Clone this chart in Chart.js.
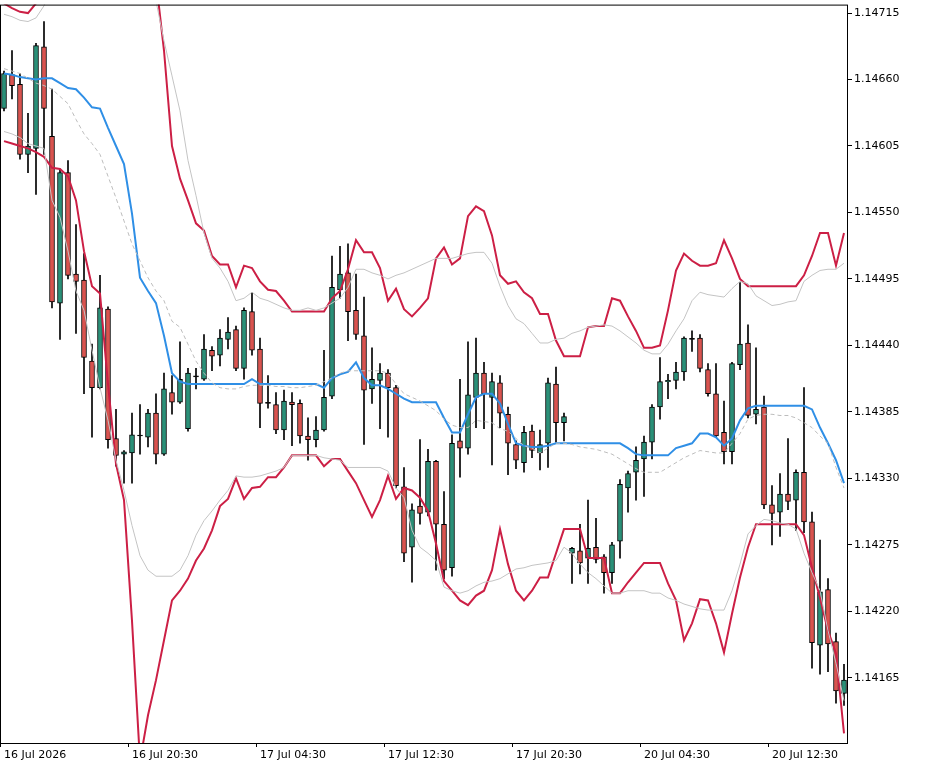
<!DOCTYPE html>
<html>
<head>
<meta charset="utf-8">
<script src="https://cdn.jsdelivr.net/npm/chart.js@4"></script>
<style>
  html, body { margin: 0; padding: 0; background: #fff; overflow: hidden; }
  #wrap { position: relative; top: -4px; width: 925px; height: 773px; }
</style>
</head>
<body>
<div id="wrap"><canvas id="chart"></canvas></div>
<script>
// 30 minute candles, EURUSD style
const openPrices = [
  1.14636,1.14664,1.14656,1.14598,1.14603,1.14687,1.14613,1.14475,1.14583,1.14499,
  1.14494,1.14427,1.14405,1.14470,1.14363,1.14350,1.14351,1.14365,1.14364,1.14384,
  1.14350,1.14401,1.14393,1.14371,1.14414,1.14412,1.14436,1.14432,1.14445,1.14453,
  1.14421,1.14468,1.14437,1.14392,1.14391,1.14370,1.14393,1.14392,1.14365,1.14362,
  1.14370,1.14398,1.14486,1.14500,1.14469,1.14448,1.14404,1.14411,1.14417,1.14405,
  1.14323,1.14273,1.14307,1.14302,1.14344,1.14292,1.14256,1.14361,1.14355,1.14397,
  1.14417,1.14397,1.14409,1.14383,1.14358,1.14343,1.14369,1.14351,1.14359,1.14408,
  1.14376,1.14268,1.14270,1.14264,1.14273,1.14265,1.14252,1.14278,1.14322,1.14335,
  1.14346,1.14360,1.14389,1.14410,1.14411,1.14418,1.14445,1.14446,1.14420,1.14400,
  1.14368,1.14352,1.14424,1.14442,1.14383,1.14389,1.14308,1.14302,1.14317,1.14312,
  1.14335,1.14294,1.14192,1.14238,1.14195,1.14152
];
const highPrices = [
  1.14667,1.14684,1.14665,1.14632,1.14690,1.14708,1.14652,1.14586,1.14593,1.14540,
  1.14516,1.14441,1.14498,1.14472,1.14387,1.14353,1.14384,1.14391,1.14387,1.14400,
  1.14417,1.14415,1.14443,1.14421,1.14421,1.14449,1.14439,1.14453,1.14463,1.14456,
  1.14471,1.14484,1.14446,1.14415,1.14401,1.14403,1.14401,1.14395,1.14380,1.14381,
  1.14436,1.14514,1.14522,1.14524,1.14499,1.14480,1.14438,1.14425,1.14420,1.14407,
  1.14339,1.14309,1.14362,1.14354,1.14345,1.14319,1.14366,1.14412,1.14443,1.14446,
  1.14426,1.14417,1.14415,1.14389,1.14361,1.14373,1.14374,1.14370,1.14413,1.14422,
  1.14384,1.14273,1.14292,1.14312,1.14297,1.14267,1.14277,1.14329,1.14336,1.14356,
  1.14365,1.14391,1.14430,1.14416,1.14426,1.14447,1.14452,1.14449,1.14425,1.14425,
  1.14394,1.14426,1.14492,1.14457,1.14438,1.14398,1.14324,1.14334,1.14363,1.14337,
  1.14405,1.14302,1.14279,1.14247,1.14202,1.14176
];
const lowPrices = [
  1.14634,1.14644,1.14594,1.14583,1.14565,1.14598,1.14471,1.14445,1.14495,1.14450,
  1.14400,1.14364,1.14404,1.14355,1.14340,1.14326,1.14326,1.14350,1.14356,1.14342,
  1.14349,1.14383,1.14392,1.14369,1.14404,1.14411,1.14419,1.14423,1.14437,1.14419,
  1.14412,1.14432,1.14372,1.14388,1.14367,1.14362,1.14357,1.14359,1.14345,1.14356,
  1.14369,1.14396,1.14479,1.14444,1.14445,1.14358,1.14392,1.14371,1.14364,1.14322,
  1.14261,1.14244,1.14292,1.14299,1.14254,1.14247,1.14249,1.14331,1.14350,1.14372,
  1.14371,1.14341,1.14372,1.14333,1.14338,1.14335,1.14347,1.14337,1.14339,1.14360,
  1.14361,1.14243,1.14251,1.14243,1.14260,1.14235,1.14243,1.14264,1.14302,1.14312,
  1.14315,1.14346,1.14379,1.14396,1.14404,1.14411,1.14435,1.14418,1.14398,1.14364,
  1.14342,1.14342,1.14420,1.14380,1.14375,1.14305,1.14275,1.14282,1.14304,1.14287,
  1.14285,1.14173,1.14168,1.14170,1.14144,1.14142
];
const closePrices = [
  1.14665,1.14655,1.14598,1.14605,1.14688,1.14636,1.14476,1.14583,1.14498,1.14493,
  1.14430,1.14405,1.14471,1.14362,1.14349,1.14352,1.14366,1.14365,1.14384,1.14350,
  1.14404,1.14393,1.14412,1.14417,1.14414,1.14437,1.14431,1.14446,1.14451,1.14421,
  1.14469,1.14436,1.14392,1.14392,1.14370,1.14394,1.14391,1.14365,1.14362,1.14370,
  1.14397,1.14488,1.14499,1.14468,1.14449,1.14403,1.14412,1.14417,1.14405,1.14324,
  1.14268,1.14304,1.14301,1.14344,1.14292,1.14254,1.14359,1.14355,1.14399,1.14417,
  1.14400,1.14410,1.14384,1.14359,1.14345,1.14368,1.14353,1.14358,1.14409,1.14376,
  1.14381,1.14272,1.14260,1.14272,1.14263,1.14252,1.14275,1.14325,1.14334,1.14345,
  1.14360,1.14389,1.14410,1.14411,1.14418,1.14446,1.14445,1.14421,1.14400,1.14365,
  1.14352,1.14425,1.14441,1.14382,1.14387,1.14308,1.14301,1.14317,1.14311,1.14335,
  1.14294,1.14194,1.14236,1.14193,1.14154,1.14163
];

// indicator lines
const midLine = [
  1.14665,1.14664,1.14662,1.14661,1.14660,1.14661,1.14661,1.14657,1.14653,1.14652,
  1.14645,1.14637,1.14636,1.14620,1.14605,1.14590,1.14549,1.14496,1.14485,1.14475,
  1.14448,1.14417,1.14410,1.14408,1.14408,1.14408,1.14408,1.14408,1.14408,1.14408,
  1.14408,1.14412,1.14408,1.14408,1.14408,1.14408,1.14408,1.14408,1.14408,1.14408,
  1.14405,1.14413,1.14416,1.14418,1.14426,1.14413,1.14407,1.14407,1.14404,1.14400,
  1.14396,1.14393,1.14393,1.14393,1.14393,1.14380,1.14368,1.14368,1.14383,1.14397,
  1.14400,1.14400,1.14392,1.14375,1.14359,1.14357,1.14356,1.14356,1.14357,1.14359,
  1.14359,1.14359,1.14359,1.14359,1.14359,1.14359,1.14359,1.14359,1.14355,1.14350,
  1.14349,1.14349,1.14349,1.14349,1.14355,1.14357,1.14359,1.14367,1.14367,1.14364,
  1.14357,1.14363,1.14378,1.14388,1.14390,1.14390,1.14390,1.14390,1.14390,1.14390,
  1.14390,1.14387,1.14372,1.14359,1.14345,1.14326
];
const upperBand = [
  1.14723,1.14719,1.14716,1.14715,1.14723,1.14742,1.14758,1.14775,1.14783,1.14791,
  1.14799,1.14808,1.14808,1.14808,1.14799,1.14791,1.14783,1.14775,1.14758,1.14742,
  1.14684,1.14605,1.14578,1.14560,1.14541,1.14535,1.14514,1.14507,1.14507,1.14488,
  1.14506,1.14504,1.14493,1.14486,1.14485,1.14477,1.14468,1.14468,1.14468,1.14468,
  1.14468,1.14479,1.14485,1.14503,1.14527,1.14517,1.14517,1.14504,1.14477,1.14487,
  1.14470,1.14464,1.14471,1.14479,1.14512,1.14521,1.14507,1.14512,1.14547,1.14555,
  1.14551,1.14531,1.14498,1.14491,1.14493,1.14484,1.14479,1.14466,1.14466,1.14444,
  1.14431,1.14431,1.14431,1.14455,1.14456,1.14456,1.14479,1.14477,1.14464,1.14452,
  1.14438,1.14438,1.14440,1.14469,1.14502,1.14516,1.14510,1.14506,1.14506,1.14508,
  1.14527,1.14512,1.14495,1.14489,1.14489,1.14489,1.14489,1.14489,1.14489,1.14489,
  1.14498,1.14514,1.14533,1.14533,1.14506,1.14533
];
const lowerBand = [
  1.14609,1.14607,1.14605,1.14603,1.14600,1.14596,1.14587,1.14586,1.14580,1.14560,
  1.14518,1.14489,1.14483,1.14408,1.14342,1.14312,1.14212,1.14096,1.14134,1.14163,
  1.14196,1.14229,1.14237,1.14247,1.14262,1.14272,1.14287,1.14307,1.14313,1.14330,
  1.14313,1.14322,1.14323,1.14331,1.14331,1.14339,1.14349,1.14349,1.14349,1.14349,
  1.14340,1.14346,1.14346,1.14336,1.14326,1.14312,1.14298,1.14312,1.14332,1.14313,
  1.14322,1.14320,1.14314,1.14303,1.14276,1.14245,1.14237,1.14229,1.14225,1.14233,
  1.14237,1.14254,1.14288,1.14259,1.14237,1.14229,1.14237,1.14248,1.14248,1.14268,
  1.14288,1.14288,1.14288,1.14264,1.14264,1.14264,1.14235,1.14235,1.14244,1.14252,
  1.14260,1.14260,1.14260,1.14243,1.14229,1.14196,1.14210,1.14230,1.14229,1.14210,
  1.14186,1.14218,1.14248,1.14273,1.14292,1.14292,1.14292,1.14292,1.14292,1.14292,
  1.14283,1.14256,1.14231,1.14204,1.14185,1.14119
];
const upperEnvelope = [
  1.14714,1.14712,1.14709,1.14708,1.14711,1.14721,1.14737,1.14750,1.14766,1.14766,
  1.14766,1.14766,1.14766,1.14766,1.14766,1.14766,1.14766,1.14766,1.14750,1.14725,
  1.14692,1.14663,1.14634,1.14593,1.14564,1.14533,1.14512,1.14504,1.14493,1.14477,
  1.14479,1.14484,1.14479,1.14477,1.14474,1.14471,1.14469,1.14469,1.14471,1.14469,
  1.14471,1.14475,1.14479,1.14488,1.14503,1.14503,1.14500,1.14498,1.14495,1.14498,
  1.14500,1.14503,1.14506,1.14509,1.14512,1.14512,1.14512,1.14514,1.14516,1.14517,
  1.14517,1.14508,1.14489,1.14473,1.14462,1.14458,1.14450,1.14442,1.14442,1.14445,
  1.14446,1.14450,1.14452,1.14455,1.14456,1.14457,1.14456,1.14452,1.14447,1.14442,
  1.14436,1.14433,1.14433,1.14441,1.14452,1.14462,1.14477,1.14484,1.14482,1.14481,
  1.14480,1.14487,1.14493,1.14491,1.14481,1.14477,1.14473,1.14474,1.14476,1.14477,
  1.14493,1.14498,1.14502,1.14503,1.14503,1.14508
];
const lowerEnvelope = [
  1.14617,1.14615,1.14612,1.14607,1.14605,1.14603,1.14560,1.14546,1.14518,1.14485,
  1.14469,1.14436,1.14405,1.14378,1.14345,1.14320,1.14291,1.14266,1.14254,1.14249,
  1.14249,1.14249,1.14254,1.14266,1.14283,1.14295,1.14303,1.14312,1.14320,1.14332,
  1.14331,1.14331,1.14332,1.14334,1.14336,1.14339,1.14349,1.14349,1.14349,1.14349,
  1.14347,1.14346,1.14345,1.14339,1.14339,1.14339,1.14339,1.14339,1.14336,1.14322,
  1.14314,1.14287,1.14273,1.14268,1.14262,1.14240,1.14237,1.14235,1.14237,1.14241,
  1.14244,1.14245,1.14247,1.14251,1.14255,1.14256,1.14258,1.14259,1.14260,1.14262,
  1.14273,1.14268,1.14259,1.14252,1.14247,1.14241,1.14235,1.14235,1.14237,1.14237,
  1.14237,1.14235,1.14235,1.14231,1.14229,1.14226,1.14224,1.14222,1.14221,1.14221,
  1.14221,1.14237,1.14259,1.14284,1.14291,1.14296,1.14295,1.14293,1.14292,1.14288,
  1.14268,1.14252,1.14237,1.14204,1.14177,1.14146
];
const centreEnvelope = [
  1.14669,1.14667,1.14665,1.14661,1.14657,1.14655,1.14652,1.14646,1.14640,1.14627,
  1.14615,1.14607,1.14598,1.14580,1.14562,1.14543,1.14524,1.14510,1.14496,1.14485,
  1.14477,1.14460,1.14455,1.14441,1.14427,1.14417,1.14409,1.14405,1.14404,1.14404,
  1.14406,1.14407,1.14407,1.14407,1.14406,1.14406,1.14405,1.14405,1.14406,1.14407,
  1.14410,1.14413,1.14417,1.14419,1.14419,1.14419,1.14419,1.14419,1.14417,1.14408,
  1.14400,1.14397,1.14394,1.14390,1.14386,1.14379,1.14374,1.14372,1.14372,1.14378,
  1.14377,1.14376,1.14371,1.14369,1.14363,1.14357,1.14355,1.14351,1.14355,1.14359,
  1.14359,1.14358,1.14356,1.14355,1.14354,1.14352,1.14350,1.14346,1.14342,1.14338,
  1.14335,1.14335,1.14335,1.14339,1.14343,1.14347,1.14350,1.14353,1.14352,1.14351,
  1.14351,1.14359,1.14367,1.14379,1.14382,1.14383,1.14383,1.14382,1.14382,1.14380,
  1.14376,1.14372,1.14365,1.14359,1.14339,1.14322
];

const yTicks = [1.14165, 1.14220, 1.14275, 1.14330, 1.14385, 1.14440, 1.14495, 1.14550, 1.14605, 1.14660, 1.14715];
const timeLabels = ['16 Jul 2026', '16 Jul 20:30', '17 Jul 04:30', '17 Jul 12:30', '17 Jul 20:30', '20 Jul 04:30', '20 Jul 12:30'];
const labelStep = 16;

const labels = openPrices.map((_, i) => i);
const wicks = lowPrices.map((l, i) => [l, highPrices[i]]);
const bodies = openPrices.map((o, i) => [o, closePrices[i]]);
const bodyColors = openPrices.map((o, i) => {
    if (closePrices[i] > o) return '#2a9078';
    if (closePrices[i] < o) return '#d9534f';
    return '#000000';
});

function lineSet(data, color, width, dash) {
    return {
        type: 'line',
        data: data,
        borderColor: color,
        borderWidth: width,
        borderDash: dash || [],
        pointRadius: 0,
        tension: 0,
        fill: false,
        order: 1
    };
}

const framePlugin = {
    id: 'frame',
    afterDraw(chart) {
        const a = chart.chartArea;
        const ctx = chart.ctx;
        ctx.save();
        ctx.strokeStyle = '#000';
        ctx.lineWidth = 1;
        ctx.strokeRect(a.left + 0.5, a.top + 0.5, a.right - a.left - 1, a.bottom - a.top);
        ctx.restore();
    }
};

new Chart(document.getElementById('chart'), {
    type: 'bar',
    data: {
        labels: labels,
        datasets: [
            lineSet(upperEnvelope, '#c4c4c4', 1),
            lineSet(lowerEnvelope, '#c4c4c4', 1),
            lineSet(centreEnvelope, '#bdbdbd', 1, [4, 3]),
            lineSet(upperBand, '#cc1f45', 2),
            lineSet(lowerBand, '#cc1f45', 2),
            lineSet(midLine, '#2f8fe6', 2),
            {
                data: wicks,
                backgroundColor: '#000',
                barThickness: 1,
                grouped: false,
                order: 10
            },
            {
                data: bodies,
                backgroundColor: bodyColors,
                borderColor: '#000',
                borderWidth: 1,
                borderSkipped: false,
                barThickness: 5,
                minBarLength: 1,
                grouped: false,
                order: 9
            }
        ]
    },
    options: {
        responsive: true,
        maintainAspectRatio: false,
        animation: false,
        layout: { padding: { top: 0, left: 0, right: 0 } },
        plugins: {
            legend: { display: false },
            tooltip: { enabled: false }
        },
        scales: {
            x: {
                offset: true,
                grid: { display: true, drawOnChartArea: false, drawTicks: true, tickLength: 4, color: '#000',
                        lineWidth: (c) => (c.index % labelStep === 0 ? 1 : 0) },
                border: { display: false },
                afterFit(scale) { scale.height = 26; },
                ticks: {
                    autoSkip: false,
                    maxRotation: 0,
                    align: 'start',
                    padding: 2,
                    color: '#000',
                    font: { family: 'DejaVu Sans', size: 11 },
                    callback(value, index) {
                        return index % labelStep === 0 ? timeLabels[index / labelStep] : '';
                    }
                }
            },
            y: {
                position: 'right',
                min: 1.14111,
                max: 1.14722,
                grid: { drawOnChartArea: false, drawTicks: true, tickLength: 4, color: '#000' },
                border: { display: false },
                afterFit(scale) { scale.width = 77; },
                afterBuildTicks(scale) {
                    scale.ticks = yTicks.map(v => ({ value: v }));
                },
                ticks: {
                    padding: 2,
                    color: '#000',
                    font: { family: 'DejaVu Sans', size: 11 },
                    callback(value) { return value.toFixed(5); }
                }
            }
        }
    },
    plugins: [framePlugin]
});
</script>
</body>
</html>
